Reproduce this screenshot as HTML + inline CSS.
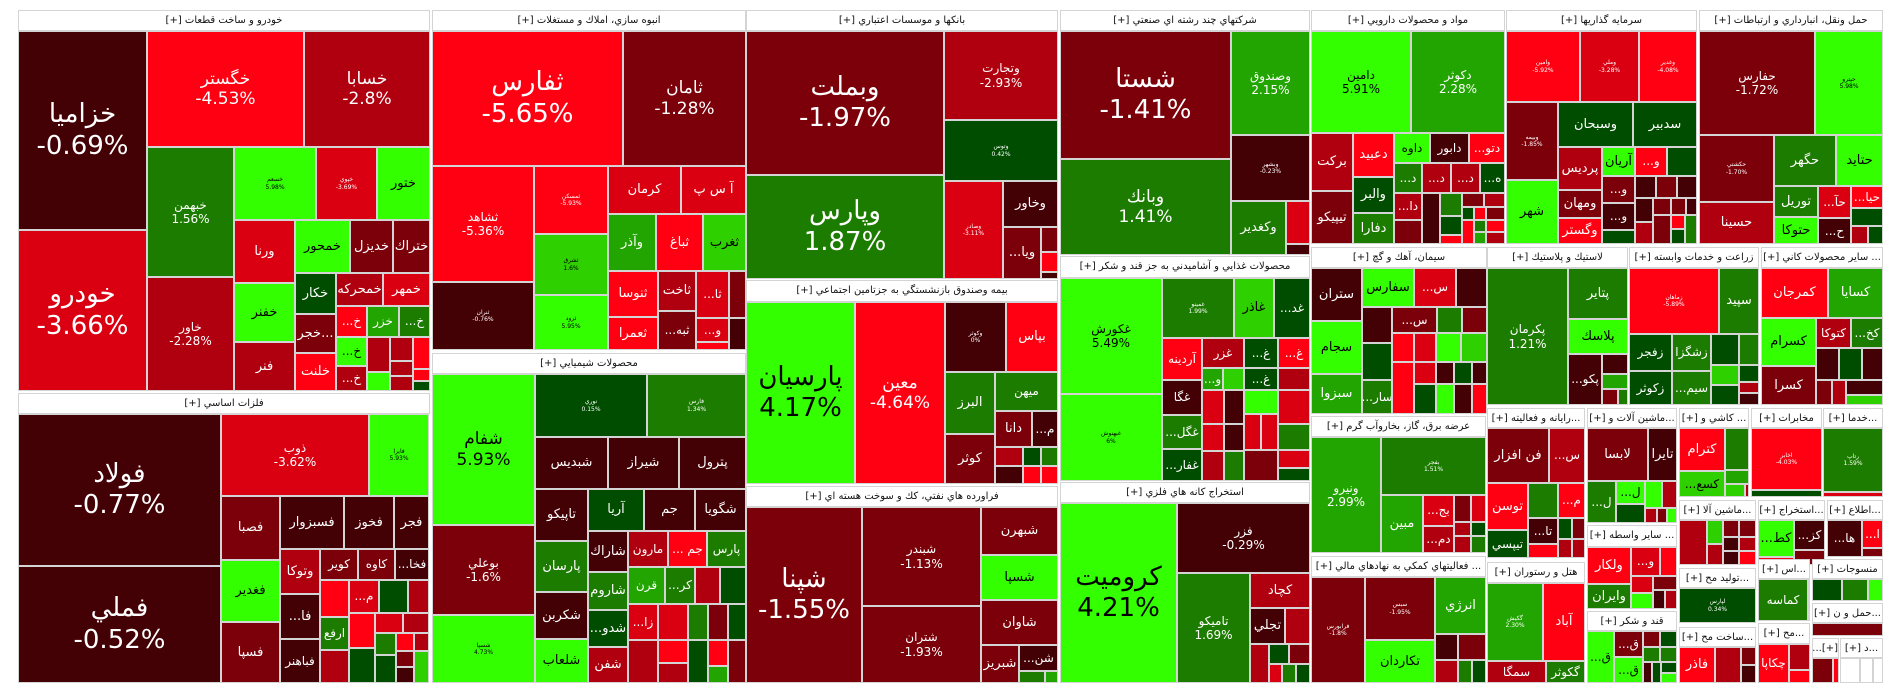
<!DOCTYPE html>
<html><head><meta charset="utf-8"><style>
body{margin:0;width:1904px;height:698px;background:#fff;position:relative;overflow:hidden;font-family:"DejaVu Sans","Liberation Sans",sans-serif}
.t{position:absolute;box-sizing:border-box;border:1px solid #d4d4d4;display:flex;flex-direction:column;align-items:center;justify-content:center;color:#fff;font-size:12px;line-height:1.2;overflow:hidden;text-align:center;white-space:nowrap}
.h{position:absolute;box-sizing:border-box;background:#fff;border:1px solid #d4d4d4;font-size:10px;color:#111;text-align:center;line-height:19px;direction:rtl;overflow:hidden;white-space:nowrap}
.d1{background:#440105}.d2{background:#7b0009}.d3{background:#b0000f}.d4{background:#da0011}.d5{background:#ff0012}
.g1{background:#004d00}.g2{background:#1c7c00}.g3{background:#22a500}.g4{background:#2ed000}.g5{background:#33ff00;color:#000}
.g4{color:#000}
.L{font-size:26px}.M{font-size:17px}.S{font-size:13px}.x{font-size:6px}
</style></head><body>

<!-- sector 1 -->
<div class="h" style="left:18px;top:10px;width:412px;height:21px">خودرو و ساخت قطعات [+]</div>
<div class="t d1 L" style="left:18px;top:31px;width:129px;height:199px">خزاميا<br>-0.69%</div>
<div class="t d4 L" style="left:18px;top:230px;width:129px;height:161px">خودرو<br>-3.66%</div>
<div class="t d5 M" style="left:147px;top:31px;width:157px;height:116px">خگستر<br>-4.53%</div>
<div class="t d3 M" style="left:304px;top:31px;width:126px;height:116px">خسابا<br>-2.8%</div>
<div class="t g2" style="left:147px;top:147px;width:87px;height:130px">خبهمن<br>1.56%</div>
<div class="t d3" style="left:147px;top:277px;width:87px;height:114px">خاور<br>-2.28%</div>
<div class="t g5 x" style="left:234px;top:147px;width:82px;height:73px">خسعم<br>5.98%</div>
<div class="t d4 x" style="left:316px;top:147px;width:61px;height:73px">خپوي<br>-3.69%</div>
<div class="t g5 S" style="left:377px;top:147px;width:53px;height:73px">ختور</div>
<div class="t d4 S" style="left:234px;top:220px;width:61px;height:63px">ورنا</div>
<div class="t g5 S" style="left:234px;top:283px;width:61px;height:59px">خفنر</div>
<div class="t d3 S" style="left:234px;top:342px;width:61px;height:49px">فنر</div>
<div class="t g5 S" style="left:295px;top:220px;width:55px;height:53px">خمحور</div>
<div class="t d2 S" style="left:350px;top:220px;width:43px;height:53px">خديزل</div>
<div class="t d2 S" style="left:393px;top:220px;width:37px;height:53px">ختراك</div>
<div class="t g1 S" style="left:295px;top:273px;width:41px;height:41px">خكار</div>
<div class="t d3 S" style="left:336px;top:273px;width:47px;height:33px">خمحركه</div>
<div class="t d4 S" style="left:383px;top:273px;width:47px;height:33px">خمهر</div>
<div class="t d2 S" style="left:295px;top:314px;width:41px;height:39px">خجر...</div>
<div class="t d5 S" style="left:295px;top:353px;width:41px;height:38px">خلنت</div>
<div class="t d5" style="left:336px;top:306px;width:31px;height:31px">...خ</div>
<div class="t g3" style="left:367px;top:306px;width:32px;height:31px">خزر</div>
<div class="t g2" style="left:399px;top:306px;width:31px;height:31px">...خ</div>
<div class="t g5" style="left:336px;top:337px;width:31px;height:29px">...خ</div>
<div class="t d3" style="left:336px;top:366px;width:31px;height:25px">...خ</div>
<div class="t d3" style="left:367px;top:337px;width:23px;height:35px"></div>
<div class="t d3" style="left:390px;top:337px;width:23px;height:24px"></div>
<div class="t d5" style="left:413px;top:337px;width:17px;height:32px"></div>
<div class="t g5" style="left:367px;top:372px;width:23px;height:19px"></div>
<div class="t d3" style="left:390px;top:361px;width:23px;height:15px"></div>
<div class="t d3" style="left:390px;top:376px;width:23px;height:15px"></div>
<div class="t d5" style="left:413px;top:369px;width:17px;height:12px"></div>
<div class="t g1" style="left:413px;top:381px;width:17px;height:10px"></div>

<!-- metals -->
<div class="h" style="left:18px;top:393px;width:412px;height:21px">فلزات اساسي [+]</div>
<div class="t d1 L" style="left:18px;top:414px;width:203px;height:152px">فولاد<br>-0.77%</div>
<div class="t d1 L" style="left:18px;top:566px;width:203px;height:117px">فملي<br>-0.52%</div>
<div class="t d4" style="left:221px;top:414px;width:148px;height:82px">ذوب<br>-3.62%</div>
<div class="t g5 x" style="left:369px;top:414px;width:60px;height:82px">فايرا<br>5.93%</div>
<div class="t d2 S" style="left:221px;top:496px;width:59px;height:64px">فصبا</div>
<div class="t g5 S" style="left:221px;top:560px;width:59px;height:62px">فغدير</div>
<div class="t d2 S" style="left:221px;top:622px;width:59px;height:61px">فسپا</div>
<div class="t d1 S" style="left:280px;top:496px;width:64px;height:53px">فسبزوار</div>
<div class="t d1 S" style="left:344px;top:496px;width:50px;height:53px">فخوز</div>
<div class="t d1 S" style="left:394px;top:496px;width:35px;height:53px">فجر</div>
<div class="t d3 S" style="left:280px;top:549px;width:40px;height:45px">وتوكا</div>
<div class="t d1 S" style="left:280px;top:594px;width:40px;height:45px">...فا</div>
<div class="t d1" style="left:280px;top:639px;width:40px;height:44px">فباهنر</div>
<div class="t d2" style="left:320px;top:549px;width:38px;height:31px">كوير</div>
<div class="t d2" style="left:358px;top:549px;width:37px;height:31px">كاوه</div>
<div class="t d1" style="left:395px;top:549px;width:34px;height:31px">...فخا</div>
<div class="t d5" style="left:320px;top:580px;width:29px;height:37px"></div>
<div class="t d4" style="left:349px;top:580px;width:30px;height:33px">...م</div>
<div class="t g1" style="left:379px;top:580px;width:29px;height:33px"></div>
<div class="t d3" style="left:408px;top:580px;width:21px;height:33px"></div>
<div class="t g2" style="left:320px;top:617px;width:29px;height:33px">ارفع</div>
<div class="t d3" style="left:320px;top:650px;width:29px;height:33px"></div>
<div class="t d5" style="left:349px;top:613px;width:26px;height:35px"></div>
<div class="t d4" style="left:375px;top:613px;width:28px;height:20px"></div>
<div class="t d3" style="left:403px;top:613px;width:26px;height:20px"></div>
<div class="t g1" style="left:349px;top:648px;width:26px;height:35px"></div>
<div class="t g2" style="left:375px;top:633px;width:21px;height:22px"></div>
<div class="t d5" style="left:396px;top:633px;width:18px;height:18px"></div>
<div class="t d3" style="left:414px;top:633px;width:15px;height:18px"></div>
<div class="t g1" style="left:375px;top:655px;width:21px;height:28px"></div>
<div class="t d2" style="left:396px;top:651px;width:18px;height:16px"></div>
<div class="t d1" style="left:396px;top:667px;width:18px;height:16px"></div>
<div class="t g4" style="left:414px;top:651px;width:15px;height:32px"></div>

<!-- sector 2 -->
<div class="h" style="left:432px;top:10px;width:314px;height:21px">انبوه سازي، املاك و مستغلات [+]</div>
<div class="t d5 L" style="left:432px;top:31px;width:191px;height:135px">ثفارس<br>-5.65%</div>
<div class="t d2 M" style="left:623px;top:31px;width:123px;height:135px">ثامان<br>-1.28%</div>
<div class="t d5" style="left:432px;top:166px;width:102px;height:116px">ثشاهد<br>-5.36%</div>
<div class="t d1 x" style="left:432px;top:282px;width:102px;height:68px">ثنران<br>-0.76%</div>
<div class="t d5 x" style="left:534px;top:166px;width:74px;height:68px">ثمسكن<br>-5.93%</div>
<div class="t g4 x" style="left:534px;top:234px;width:74px;height:61px">ثشرق<br>1.6%</div>
<div class="t g5 x" style="left:534px;top:295px;width:74px;height:55px">ثرود<br>5.95%</div>
<div class="t d4 S" style="left:608px;top:166px;width:73px;height:48px">كرمان</div>
<div class="t d4 S" style="left:681px;top:166px;width:65px;height:48px">آ س پ</div>
<div class="t g3 S" style="left:608px;top:214px;width:48px;height:57px">وآذر</div>
<div class="t d5 S" style="left:656px;top:214px;width:47px;height:57px">ثباغ</div>
<div class="t g4 S" style="left:703px;top:214px;width:43px;height:57px">ثغرب</div>
<div class="t d5 S" style="left:608px;top:271px;width:50px;height:46px">ثنوسا</div>
<div class="t d5 S" style="left:608px;top:317px;width:50px;height:33px">ثعمرا</div>
<div class="t d3 S" style="left:658px;top:271px;width:38px;height:40px">ثاخت</div>
<div class="t d2" style="left:658px;top:311px;width:38px;height:39px">...ثبه</div>
<div class="t d4" style="left:696px;top:271px;width:33px;height:47px">...ثا</div>
<div class="t d2" style="left:729px;top:271px;width:17px;height:47px"></div>
<div class="t d4" style="left:696px;top:318px;width:33px;height:24px">...و</div>
<div class="t d5" style="left:696px;top:342px;width:33px;height:8px"></div>
<div class="t d1" style="left:729px;top:318px;width:17px;height:32px"></div>

<!-- chem -->
<div class="h" style="left:432px;top:353px;width:314px;height:21px">محصولات شيميايي [+]</div>
<div class="t g5 M" style="left:432px;top:374px;width:103px;height:151px">شفام<br>5.93%</div>
<div class="t d2" style="left:432px;top:525px;width:103px;height:90px">بوعلي<br>-1.6%</div>
<div class="t g5 x" style="left:432px;top:615px;width:103px;height:68px">شسپا<br>4.73%</div>
<div class="t g1 x" style="left:535px;top:374px;width:112px;height:63px">نوري<br>0.15%</div>
<div class="t g2 x" style="left:647px;top:374px;width:99px;height:63px">فارس<br>1.34%</div>
<div class="t d1 S" style="left:535px;top:437px;width:73px;height:52px">شبديس</div>
<div class="t d1 S" style="left:608px;top:437px;width:71px;height:52px">شيراز</div>
<div class="t d1 S" style="left:679px;top:437px;width:67px;height:52px">پترول</div>
<div class="t d1 S" style="left:535px;top:489px;width:53px;height:52px">تاپيكو</div>
<div class="t g1 S" style="left:588px;top:489px;width:56px;height:42px">آريا</div>
<div class="t d1 S" style="left:644px;top:489px;width:51px;height:42px">جم</div>
<div class="t d1 S" style="left:695px;top:489px;width:51px;height:42px">شگويا</div>
<div class="t g2 S" style="left:535px;top:541px;width:53px;height:51px">پارسان</div>
<div class="t d1 S" style="left:535px;top:592px;width:53px;height:47px">شكربن</div>
<div class="t g5 S" style="left:535px;top:639px;width:53px;height:44px">شلعاب</div>
<div class="t d1 S" style="left:588px;top:531px;width:40px;height:41px">شاراك</div>
<div class="t g2 S" style="left:588px;top:572px;width:40px;height:38px">شاروم</div>
<div class="t g1 S" style="left:588px;top:610px;width:40px;height:37px">...شدو</div>
<div class="t d3 S" style="left:588px;top:647px;width:40px;height:36px">شفن</div>
<div class="t d3" style="left:628px;top:531px;width:40px;height:36px">مارون</div>
<div class="t d5" style="left:668px;top:531px;width:39px;height:36px">... جم</div>
<div class="t g2" style="left:707px;top:531px;width:39px;height:36px">پارس</div>
<div class="t g3" style="left:628px;top:567px;width:37px;height:37px">قرن</div>
<div class="t g2" style="left:665px;top:567px;width:30px;height:37px">...كر</div>
<div class="t d3" style="left:695px;top:567px;width:25px;height:37px"></div>
<div class="t g1" style="left:720px;top:567px;width:26px;height:37px"></div>
<div class="t d4" style="left:628px;top:604px;width:30px;height:36px">...زا</div>
<div class="t d4" style="left:658px;top:604px;width:30px;height:36px"></div>
<div class="t g2" style="left:688px;top:604px;width:20px;height:36px"></div>
<div class="t d2" style="left:708px;top:604px;width:20px;height:36px"></div>
<div class="t g1" style="left:728px;top:604px;width:18px;height:36px"></div>
<div class="t d3" style="left:628px;top:640px;width:30px;height:43px"></div>
<div class="t d5" style="left:658px;top:640px;width:30px;height:23px"></div>
<div class="t d3" style="left:658px;top:663px;width:30px;height:20px"></div>
<div class="t g1" style="left:688px;top:640px;width:20px;height:43px"></div>
<div class="t d5" style="left:708px;top:640px;width:20px;height:26px"></div>
<div class="t g3" style="left:708px;top:666px;width:20px;height:17px"></div>
<div class="t d2" style="left:728px;top:640px;width:18px;height:43px"></div>

<!-- banks -->
<div class="h" style="left:746px;top:10px;width:312px;height:21px">بانكها و موسسات اعتباري [+]</div>
<div class="t d2 L" style="left:746px;top:31px;width:198px;height:144px">وبملت<br>-1.97%</div>
<div class="t g2 L" style="left:746px;top:175px;width:198px;height:104px">وپارس<br>1.87%</div>
<div class="t d3" style="left:944px;top:31px;width:114px;height:89px">وتجارت<br>-2.93%</div>
<div class="t g1 x" style="left:944px;top:120px;width:114px;height:61px">وتوس<br>0.42%</div>
<div class="t d4 x" style="left:944px;top:181px;width:59px;height:98px">وصادر<br>-3.11%</div>
<div class="t d1 S" style="left:1003px;top:181px;width:55px;height:46px">وخاور</div>
<div class="t d2 S" style="left:1003px;top:227px;width:38px;height:52px">...ويا</div>
<div class="t d2" style="left:1041px;top:227px;width:17px;height:25px"></div>
<div class="t d5" style="left:1041px;top:252px;width:17px;height:20px"></div>
<div class="t d1" style="left:1041px;top:272px;width:17px;height:7px"></div>

<!-- insurance -->
<div class="h" style="left:746px;top:280px;width:312px;height:22px">بيمه وصندوق بازنشستگي به جزتامين اجتماعي [+]</div>
<div class="t g5 L" style="left:746px;top:302px;width:109px;height:182px">پارسيان<br>4.17%</div>
<div class="t d5 M" style="left:855px;top:302px;width:90px;height:182px">معين<br>-4.64%</div>
<div class="t d1 x" style="left:945px;top:302px;width:61px;height:70px">وكوثر<br>0%</div>
<div class="t d5 S" style="left:1006px;top:302px;width:52px;height:70px">بپاس</div>
<div class="t g2 S" style="left:945px;top:372px;width:50px;height:62px">البرز</div>
<div class="t d2 S" style="left:945px;top:434px;width:50px;height:50px">كوثر</div>
<div class="t g2" style="left:995px;top:372px;width:63px;height:39px">ميهن</div>
<div class="t d2 S" style="left:995px;top:411px;width:37px;height:36px">دانا</div>
<div class="t d1" style="left:1032px;top:411px;width:26px;height:36px">...م</div>
<div class="t d3" style="left:995px;top:447px;width:28px;height:19px"></div>
<div class="t g1" style="left:1023px;top:447px;width:18px;height:19px"></div>
<div class="t g2" style="left:1041px;top:447px;width:17px;height:19px"></div>
<div class="t d1" style="left:995px;top:466px;width:28px;height:18px"></div>
<div class="t d5" style="left:1023px;top:466px;width:18px;height:18px"></div>
<div class="t d5" style="left:1041px;top:466px;width:17px;height:18px"></div>

<!-- oil -->
<div class="h" style="left:746px;top:486px;width:312px;height:21px">فراورده هاي نفتي، كك و سوخت هسته اي [+]</div>
<div class="t d2 L" style="left:746px;top:507px;width:116px;height:176px">شپنا<br>-1.55%</div>
<div class="t d2" style="left:862px;top:507px;width:119px;height:99px">شبندر<br>-1.13%</div>
<div class="t d2" style="left:862px;top:606px;width:119px;height:77px">شتران<br>-1.93%</div>
<div class="t d2 S" style="left:981px;top:507px;width:77px;height:48px">شبهرن</div>
<div class="t g5 S" style="left:981px;top:555px;width:77px;height:45px">شسپا</div>
<div class="t d2 S" style="left:981px;top:600px;width:77px;height:45px">شاوان</div>
<div class="t d2 S" style="left:981px;top:645px;width:38px;height:38px">شبريز</div>
<div class="t d1" style="left:1019px;top:645px;width:39px;height:26px">...شن</div>
<div class="t g2" style="left:1019px;top:671px;width:26px;height:12px"></div>
<div class="t g3" style="left:1045px;top:671px;width:13px;height:12px"></div>

<!-- multi -->
<div class="h" style="left:1060px;top:10px;width:250px;height:21px">شركتهاي چند رشته اي صنعتي [+]</div>
<div class="t d2 L" style="left:1060px;top:31px;width:171px;height:128px">شستا<br>-1.41%</div>
<div class="t g2 M" style="left:1060px;top:159px;width:171px;height:96px">وبانك<br>1.41%</div>
<div class="t g3" style="left:1231px;top:31px;width:79px;height:104px">وصندوق<br>2.15%</div>
<div class="t d1 x" style="left:1231px;top:135px;width:79px;height:66px">وبشهر<br>-0.23%</div>
<div class="t g2 S" style="left:1231px;top:201px;width:55px;height:54px">وكغدير</div>
<div class="t d4" style="left:1286px;top:201px;width:24px;height:43px"></div>
<div class="t d1" style="left:1286px;top:244px;width:24px;height:11px"></div>

<!-- food -->
<div class="h" style="left:1060px;top:256px;width:250px;height:22px">محصولات غذايي و آشاميدني به جز قند و شكر [+]</div>
<div class="t g5" style="left:1060px;top:278px;width:102px;height:116px">غكورش<br>5.49%</div>
<div class="t g5 x" style="left:1060px;top:394px;width:102px;height:87px">غبهنوش<br>6%</div>
<div class="t g2 x" style="left:1162px;top:278px;width:72px;height:60px">غمينو<br>1.99%</div>
<div class="t g4 S" style="left:1234px;top:278px;width:40px;height:60px">غاذر</div>
<div class="t g1" style="left:1274px;top:278px;width:36px;height:60px">...غد</div>
<div class="t d5" style="left:1162px;top:338px;width:40px;height:42px">آردينه</div>
<div class="t d1" style="left:1162px;top:380px;width:40px;height:35px">غگا</div>
<div class="t g2" style="left:1162px;top:415px;width:40px;height:34px">...غگل</div>
<div class="t g1" style="left:1162px;top:449px;width:40px;height:32px">...غفار</div>
<div class="t d3" style="left:1202px;top:338px;width:42px;height:30px">غزر</div>
<div class="t g3" style="left:1202px;top:368px;width:21px;height:22px">...و</div>
<div class="t g4" style="left:1223px;top:368px;width:21px;height:22px"></div>
<div class="t d4" style="left:1202px;top:390px;width:22px;height:34px"></div>
<div class="t d1" style="left:1224px;top:390px;width:20px;height:34px"></div>
<div class="t d4" style="left:1202px;top:424px;width:22px;height:27px"></div>
<div class="t d1" style="left:1224px;top:424px;width:20px;height:27px"></div>
<div class="t d3" style="left:1202px;top:451px;width:22px;height:30px"></div>
<div class="t g2" style="left:1224px;top:451px;width:20px;height:30px"></div>
<div class="t g1" style="left:1244px;top:338px;width:34px;height:30px">...غ</div>
<div class="t g1" style="left:1244px;top:368px;width:34px;height:22px">...غ</div>
<div class="t g5" style="left:1244px;top:390px;width:34px;height:24px"></div>
<div class="t d4" style="left:1244px;top:414px;width:17px;height:36px"></div>
<div class="t d4" style="left:1261px;top:414px;width:17px;height:36px"></div>
<div class="t d2" style="left:1244px;top:450px;width:34px;height:31px"></div>
<div class="t d5" style="left:1278px;top:338px;width:32px;height:30px">...غ</div>
<div class="t d3" style="left:1278px;top:368px;width:32px;height:22px"></div>
<div class="t d4" style="left:1278px;top:390px;width:32px;height:34px"></div>
<div class="t g2" style="left:1278px;top:424px;width:32px;height:26px"></div>
<div class="t d4" style="left:1278px;top:450px;width:32px;height:18px"></div>
<div class="t g1" style="left:1278px;top:468px;width:32px;height:13px"></div>

<!-- metal mining -->
<div class="h" style="left:1060px;top:482px;width:250px;height:21px">استخراج كانه هاي فلزي [+]</div>
<div class="t g5 L" style="left:1060px;top:503px;width:117px;height:180px">كروميت<br>4.21%</div>
<div class="t d1" style="left:1177px;top:503px;width:133px;height:70px">فزر<br>-0.29%</div>
<div class="t g2" style="left:1177px;top:573px;width:73px;height:110px">تاميكو<br>1.69%</div>
<div class="t d3 S" style="left:1250px;top:573px;width:60px;height:35px">كچاد</div>
<div class="t d1 S" style="left:1250px;top:608px;width:35px;height:36px">تجلي</div>
<div class="t d3" style="left:1285px;top:608px;width:25px;height:36px"></div>
<div class="t d3" style="left:1250px;top:644px;width:19px;height:39px"></div>
<div class="t g1" style="left:1269px;top:644px;width:20px;height:20px"></div>
<div class="t d2" style="left:1289px;top:644px;width:21px;height:20px"></div>
<div class="t d4" style="left:1269px;top:664px;width:13px;height:19px"></div>
<div class="t g2" style="left:1282px;top:664px;width:14px;height:19px"></div>
<div class="t g1" style="left:1296px;top:664px;width:14px;height:19px"></div>

<!-- pharma -->
<div class="h" style="left:1311px;top:10px;width:194px;height:21px">مواد و محصولات دارويي [+]</div>
<div class="t g5" style="left:1311px;top:31px;width:100px;height:102px">دامين<br>5.91%</div>
<div class="t g3" style="left:1411px;top:31px;width:94px;height:102px">دكوثر<br>2.28%</div>
<div class="t d3 S" style="left:1311px;top:133px;width:42px;height:58px">بركت</div>
<div class="t d2 S" style="left:1311px;top:191px;width:42px;height:53px">تيپيكو</div>
<div class="t d5 S" style="left:1353px;top:133px;width:41px;height:44px">دعبيد</div>
<div class="t g1 S" style="left:1353px;top:177px;width:41px;height:36px">والبر</div>
<div class="t g2 S" style="left:1353px;top:213px;width:41px;height:31px">دفارا</div>
<div class="t g5" style="left:1394px;top:133px;width:36px;height:30px">داوه</div>
<div class="t d1" style="left:1430px;top:133px;width:39px;height:30px">دابور</div>
<div class="t d5" style="left:1469px;top:133px;width:36px;height:30px">...دتو</div>
<div class="t g2" style="left:1394px;top:163px;width:28px;height:30px">...د</div>
<div class="t d3" style="left:1422px;top:163px;width:29px;height:30px">...د</div>
<div class="t d3" style="left:1451px;top:163px;width:29px;height:30px">...د</div>
<div class="t g1" style="left:1480px;top:163px;width:25px;height:30px">...ه</div>
<div class="t d3" style="left:1394px;top:193px;width:28px;height:27px">...دا</div>
<div class="t d2" style="left:1394px;top:220px;width:28px;height:24px"></div>
<div class="t d1" style="left:1422px;top:193px;width:18px;height:51px"></div>
<div class="t g2" style="left:1440px;top:193px;width:22px;height:23px"></div>
<div class="t g1" style="left:1440px;top:216px;width:22px;height:19px"></div>
<div class="t d5" style="left:1440px;top:235px;width:22px;height:9px"></div>
<div class="t d2" style="left:1462px;top:193px;width:22px;height:14px"></div>
<div class="t d3" style="left:1484px;top:193px;width:21px;height:14px"></div>
<div class="t g1" style="left:1462px;top:207px;width:12px;height:13px"></div>
<div class="t d5" style="left:1474px;top:207px;width:12px;height:13px"></div>
<div class="t d2" style="left:1486px;top:207px;width:19px;height:13px"></div>
<div class="t d5" style="left:1462px;top:220px;width:12px;height:24px"></div>
<div class="t g2" style="left:1474px;top:220px;width:12px;height:12px"></div>
<div class="t d5" style="left:1486px;top:220px;width:19px;height:12px"></div>
<div class="t g3" style="left:1474px;top:232px;width:12px;height:12px"></div>
<div class="t d3" style="left:1486px;top:232px;width:19px;height:12px"></div>

<!-- cement -->
<div class="h" style="left:1311px;top:247px;width:176px;height:21px">سيمان، آهك و گچ [+]</div>
<div class="t d1 S" style="left:1311px;top:268px;width:51px;height:53px">ستران</div>
<div class="t g5 S" style="left:1311px;top:321px;width:51px;height:53px">سجام</div>
<div class="t g3 S" style="left:1311px;top:374px;width:51px;height:40px">سبزوا</div>
<div class="t g5 S" style="left:1362px;top:268px;width:52px;height:39px">سفارس</div>
<div class="t d4" style="left:1414px;top:268px;width:42px;height:39px">...س</div>
<div class="t d1" style="left:1456px;top:268px;width:31px;height:39px"></div>
<div class="t d1" style="left:1362px;top:307px;width:30px;height:36px"></div>
<div class="t d2" style="left:1392px;top:307px;width:45px;height:26px">...س</div>
<div class="t g2" style="left:1437px;top:307px;width:25px;height:26px"></div>
<div class="t d2" style="left:1462px;top:307px;width:25px;height:26px"></div>
<div class="t g1" style="left:1362px;top:343px;width:30px;height:37px"></div>
<div class="t g2" style="left:1362px;top:380px;width:30px;height:34px">...سار</div>
<div class="t d5" style="left:1392px;top:333px;width:22px;height:29px"></div>
<div class="t d4" style="left:1414px;top:333px;width:22px;height:29px"></div>
<div class="t g5" style="left:1436px;top:333px;width:25px;height:29px"></div>
<div class="t g4" style="left:1461px;top:333px;width:26px;height:29px"></div>
<div class="t d5" style="left:1392px;top:362px;width:22px;height:52px"></div>
<div class="t d4" style="left:1414px;top:362px;width:22px;height:22px"></div>
<div class="t g1" style="left:1414px;top:384px;width:22px;height:30px"></div>
<div class="t d1" style="left:1436px;top:362px;width:18px;height:22px"></div>
<div class="t g1" style="left:1454px;top:362px;width:18px;height:22px"></div>
<div class="t d1" style="left:1472px;top:362px;width:15px;height:22px"></div>
<div class="t g5" style="left:1436px;top:384px;width:18px;height:30px"></div>
<div class="t d1" style="left:1454px;top:384px;width:18px;height:30px"></div>
<div class="t d5" style="left:1472px;top:384px;width:15px;height:30px"></div>

<!-- energy -->
<div class="h" style="left:1311px;top:416px;width:175px;height:21px">عرضه برق، گاز، بخاروآب گرم [+]</div>
<div class="t g3" style="left:1311px;top:437px;width:70px;height:116px">ونيرو<br>2.99%</div>
<div class="t g2 x" style="left:1381px;top:437px;width:105px;height:58px">بفجر<br>1.51%</div>
<div class="t g3 S" style="left:1381px;top:495px;width:42px;height:58px">مبين</div>
<div class="t d4" style="left:1423px;top:495px;width:31px;height:31px">...بج</div>
<div class="t d3" style="left:1423px;top:526px;width:31px;height:27px">...دم</div>
<div class="t d2" style="left:1454px;top:495px;width:17px;height:27px"></div>
<div class="t d4" style="left:1471px;top:495px;width:15px;height:27px"></div>
<div class="t d3" style="left:1454px;top:522px;width:17px;height:14px"></div>
<div class="t g1" style="left:1471px;top:522px;width:15px;height:14px"></div>
<div class="t d3" style="left:1454px;top:536px;width:17px;height:17px"></div>
<div class="t g2" style="left:1471px;top:536px;width:15px;height:17px"></div>

<!-- fin aux -->
<div class="h" style="left:1311px;top:556px;width:175px;height:21px">... فعاليتهاي كمكي به نهادهاي مالي [+]</div>
<div class="t d2 x" style="left:1311px;top:577px;width:54px;height:106px">فرابورس<br>-1.8%</div>
<div class="t d2 x" style="left:1365px;top:577px;width:70px;height:63px">سبس<br>-1.95%</div>
<div class="t g3 S" style="left:1435px;top:577px;width:51px;height:57px">انرژي</div>
<div class="t g5 S" style="left:1365px;top:640px;width:70px;height:43px">تكاردان</div>
<div class="t d1" style="left:1435px;top:634px;width:23px;height:26px"></div>
<div class="t d2" style="left:1458px;top:634px;width:28px;height:26px"></div>
<div class="t d3" style="left:1435px;top:660px;width:23px;height:23px"></div>
<div class="t g2" style="left:1458px;top:660px;width:14px;height:23px"></div>
<div class="t g1" style="left:1472px;top:660px;width:14px;height:23px"></div>

<!-- investment -->
<div class="h" style="left:1506px;top:10px;width:191px;height:21px">سرمايه گذاريها [+]</div>
<div class="t d5 x" style="left:1506px;top:31px;width:74px;height:71px">وامين<br>-5.92%</div>
<div class="t d4 x" style="left:1580px;top:31px;width:59px;height:71px">وملي<br>-3.28%</div>
<div class="t d5 x" style="left:1639px;top:31px;width:58px;height:71px">وغدير<br>-4.08%</div>
<div class="t d2 x" style="left:1506px;top:102px;width:52px;height:78px">وبيمه<br>-1.85%</div>
<div class="t g5 S" style="left:1506px;top:180px;width:52px;height:64px">شهر</div>
<div class="t g1 S" style="left:1558px;top:102px;width:75px;height:45px">وسبحان</div>
<div class="t g1 S" style="left:1633px;top:102px;width:64px;height:45px">سدبير</div>
<div class="t d3 S" style="left:1558px;top:147px;width:44px;height:43px">پرديس</div>
<div class="t d2 S" style="left:1558px;top:190px;width:44px;height:28px">ومهان</div>
<div class="t d5 S" style="left:1558px;top:218px;width:44px;height:26px">وگستر</div>
<div class="t g5 S" style="left:1602px;top:147px;width:33px;height:29px">آريان</div>
<div class="t d5" style="left:1635px;top:147px;width:32px;height:29px">...و</div>
<div class="t g1" style="left:1667px;top:147px;width:30px;height:29px"></div>
<div class="t d2" style="left:1602px;top:176px;width:33px;height:27px">...و</div>
<div class="t d1" style="left:1602px;top:203px;width:33px;height:27px">...و</div>
<div class="t g1" style="left:1602px;top:230px;width:33px;height:14px"></div>
<div class="t d1" style="left:1635px;top:176px;width:21px;height:22px"></div>
<div class="t d2" style="left:1656px;top:176px;width:21px;height:22px"></div>
<div class="t d1" style="left:1677px;top:176px;width:20px;height:22px"></div>
<div class="t d1" style="left:1635px;top:198px;width:18px;height:24px"></div>
<div class="t d2" style="left:1653px;top:198px;width:18px;height:17px"></div>
<div class="t d2" style="left:1671px;top:198px;width:15px;height:17px"></div>
<div class="t d1" style="left:1686px;top:198px;width:11px;height:17px"></div>
<div class="t d3" style="left:1635px;top:222px;width:18px;height:22px"></div>
<div class="t d2" style="left:1653px;top:215px;width:18px;height:29px"></div>
<div class="t d5" style="left:1671px;top:215px;width:14px;height:14px"></div>
<div class="t g1" style="left:1671px;top:229px;width:14px;height:15px"></div>
<div class="t g2" style="left:1685px;top:215px;width:12px;height:29px"></div>

<!-- transport -->
<div class="h" style="left:1699px;top:10px;width:184px;height:21px">حمل ونقل، انبارداري و ارتباطات [+]</div>
<div class="t d2" style="left:1699px;top:31px;width:116px;height:104px">حفارس<br>-1.72%</div>
<div class="t g5 x" style="left:1815px;top:31px;width:68px;height:104px">حپترو<br>5.98%</div>
<div class="t d2 x" style="left:1699px;top:135px;width:75px;height:67px">حكشتي<br>-1.70%</div>
<div class="t d3 S" style="left:1699px;top:202px;width:75px;height:42px">حسينا</div>
<div class="t g2 S" style="left:1774px;top:135px;width:62px;height:51px">حگهر</div>
<div class="t g5 S" style="left:1836px;top:135px;width:47px;height:51px">حتايد</div>
<div class="t g2 S" style="left:1774px;top:186px;width:44px;height:31px">توريل</div>
<div class="t g5 S" style="left:1774px;top:217px;width:44px;height:27px">حتوكا</div>
<div class="t d4" style="left:1818px;top:186px;width:33px;height:32px">...حآ</div>
<div class="t d5" style="left:1851px;top:186px;width:32px;height:22px">...حيا</div>
<div class="t g1" style="left:1851px;top:208px;width:32px;height:18px"></div>
<div class="t d1" style="left:1818px;top:218px;width:33px;height:26px">...ح</div>
<div class="t d3" style="left:1851px;top:226px;width:17px;height:18px"></div>
<div class="t g1" style="left:1868px;top:226px;width:15px;height:18px"></div>

<!-- rubber -->
<div class="h" style="left:1487px;top:247px;width:141px;height:21px">لاستيك و پلاستيك [+]</div>
<div class="t g2" style="left:1487px;top:268px;width:81px;height:137px">پكرمان<br>1.21%</div>
<div class="t g2 S" style="left:1568px;top:268px;width:60px;height:51px">پتاير</div>
<div class="t g5 S" style="left:1568px;top:319px;width:60px;height:35px">پلاسك</div>
<div class="t d1" style="left:1568px;top:354px;width:34px;height:51px">...پكو</div>
<div class="t d1" style="left:1602px;top:354px;width:26px;height:20px"></div>
<div class="t g3" style="left:1602px;top:374px;width:26px;height:15px"></div>
<div class="t d2" style="left:1602px;top:389px;width:16px;height:16px"></div>
<div class="t g2" style="left:1618px;top:389px;width:10px;height:16px"></div>

<!-- agri -->
<div class="h" style="left:1629px;top:247px;width:130px;height:21px">زراعت و خدمات وابسته [+]</div>
<div class="t d5 x" style="left:1629px;top:268px;width:90px;height:66px">زماهان<br>-5.89%</div>
<div class="t g2 S" style="left:1719px;top:268px;width:40px;height:66px">سپيد</div>
<div class="t g1" style="left:1629px;top:334px;width:43px;height:37px">زفجر</div>
<div class="t g1" style="left:1629px;top:371px;width:43px;height:34px">زكوثر</div>
<div class="t g2" style="left:1672px;top:334px;width:39px;height:37px">زشگزا</div>
<div class="t g2" style="left:1672px;top:371px;width:39px;height:34px">...سيم</div>
<div class="t g1" style="left:1711px;top:334px;width:28px;height:31px"></div>
<div class="t g2" style="left:1739px;top:334px;width:20px;height:31px"></div>
<div class="t g4" style="left:1711px;top:365px;width:28px;height:20px"></div>
<div class="t g1" style="left:1739px;top:365px;width:20px;height:17px"></div>
<div class="t g1" style="left:1711px;top:385px;width:28px;height:20px"></div>
<div class="t d3" style="left:1739px;top:382px;width:20px;height:11px"></div>
<div class="t d1" style="left:1739px;top:393px;width:20px;height:12px"></div>

<!-- other mining -->
<div class="h" style="left:1761px;top:247px;width:122px;height:21px">... ساير محصولات كاني [+]</div>
<div class="t d5 S" style="left:1761px;top:268px;width:67px;height:50px">كمرجان</div>
<div class="t g3 S" style="left:1828px;top:268px;width:55px;height:50px">كسايا</div>
<div class="t g5 S" style="left:1761px;top:318px;width:55px;height:48px">كسرام</div>
<div class="t d3" style="left:1816px;top:318px;width:35px;height:30px">كتوكا</div>
<div class="t g2" style="left:1851px;top:318px;width:32px;height:30px">...كخ</div>
<div class="t d2 S" style="left:1761px;top:366px;width:55px;height:39px">كسرا</div>
<div class="t d1" style="left:1816px;top:348px;width:23px;height:32px"></div>
<div class="t g1" style="left:1839px;top:348px;width:23px;height:32px"></div>
<div class="t d1" style="left:1862px;top:348px;width:21px;height:32px"></div>
<div class="t d2" style="left:1816px;top:380px;width:16px;height:25px"></div>
<div class="t d3" style="left:1832px;top:380px;width:14px;height:25px"></div>
<div class="t d1" style="left:1846px;top:380px;width:37px;height:15px"></div>
<div class="t g4" style="left:1846px;top:395px;width:37px;height:10px"></div>

<!-- IT -->
<div class="h" style="left:1487px;top:408px;width:98px;height:20px">...رايانه و فعاليته [+]</div>
<div class="t d2 S" style="left:1487px;top:428px;width:62px;height:55px">فن افزار</div>
<div class="t d3" style="left:1549px;top:428px;width:36px;height:55px">...س</div>
<div class="t d5 S" style="left:1487px;top:483px;width:41px;height:47px">توسن</div>
<div class="t g1" style="left:1487px;top:530px;width:41px;height:28px">تيپسي</div>
<div class="t g2" style="left:1528px;top:483px;width:30px;height:35px"></div>
<div class="t d5" style="left:1558px;top:483px;width:27px;height:35px">...م</div>
<div class="t d1" style="left:1528px;top:518px;width:30px;height:26px">...تا</div>
<div class="t d5" style="left:1528px;top:544px;width:30px;height:14px"></div>
<div class="t g1" style="left:1558px;top:518px;width:14px;height:21px"></div>
<div class="t d2" style="left:1572px;top:518px;width:13px;height:21px"></div>
<div class="t d3" style="left:1558px;top:539px;width:14px;height:19px"></div>
<div class="t d3" style="left:1572px;top:539px;width:13px;height:19px"></div>

<!-- hotel -->
<div class="h" style="left:1487px;top:562px;width:98px;height:21px">هتل و رستوران [+]</div>
<div class="t g3 x" style="left:1487px;top:583px;width:56px;height:78px">گكيش<br>2.30%</div>
<div class="t d5 S" style="left:1543px;top:583px;width:42px;height:78px">آباد</div>
<div class="t d3" style="left:1487px;top:661px;width:59px;height:22px">سمگا</div>
<div class="t g2" style="left:1546px;top:661px;width:39px;height:22px">گكوثر</div>

<!-- machinery -->
<div class="h" style="left:1587px;top:408px;width:90px;height:20px">...ماشين آلات و [+]</div>
<div class="t d2 S" style="left:1587px;top:428px;width:61px;height:53px">لابسا</div>
<div class="t d1 S" style="left:1648px;top:428px;width:29px;height:53px">تايرا</div>
<div class="t g2" style="left:1587px;top:481px;width:29px;height:42px">...ل</div>
<div class="t g5" style="left:1616px;top:481px;width:29px;height:23px">...ل</div>
<div class="t g1" style="left:1616px;top:504px;width:29px;height:19px"></div>
<div class="t g5" style="left:1645px;top:481px;width:17px;height:27px"></div>
<div class="t d3" style="left:1662px;top:481px;width:15px;height:27px"></div>
<div class="t d3" style="left:1645px;top:508px;width:12px;height:15px"></div>
<div class="t d2" style="left:1657px;top:508px;width:10px;height:15px"></div>
<div class="t g5" style="left:1667px;top:508px;width:10px;height:15px"></div>

<div class="h" style="left:1587px;top:525px;width:90px;height:22px">... ساير واسطه [+]</div>
<div class="t d5 S" style="left:1587px;top:547px;width:44px;height:37px">ولكار</div>
<div class="t g2 S" style="left:1587px;top:584px;width:44px;height:25px">وايران</div>
<div class="t d4" style="left:1631px;top:547px;width:29px;height:29px">...و</div>
<div class="t d5" style="left:1660px;top:547px;width:17px;height:29px"></div>
<div class="t d4" style="left:1631px;top:576px;width:22px;height:17px"></div>
<div class="t d2" style="left:1653px;top:576px;width:24px;height:14px"></div>
<div class="t g5" style="left:1631px;top:593px;width:22px;height:16px"></div>
<div class="t d1" style="left:1653px;top:590px;width:12px;height:19px"></div>
<div class="t d3" style="left:1665px;top:590px;width:12px;height:19px"></div>

<div class="h" style="left:1587px;top:611px;width:90px;height:20px">قند و شكر [+]</div>
<div class="t g5" style="left:1587px;top:631px;width:27px;height:52px">...ق</div>
<div class="t d2" style="left:1614px;top:631px;width:29px;height:26px">...ق</div>
<div class="t g5" style="left:1614px;top:657px;width:29px;height:26px">...ق</div>
<div class="t d2" style="left:1643px;top:631px;width:17px;height:16px"></div>
<div class="t g1" style="left:1660px;top:631px;width:17px;height:16px"></div>
<div class="t g2" style="left:1643px;top:647px;width:17px;height:15px"></div>
<div class="t g2" style="left:1660px;top:647px;width:17px;height:15px"></div>
<div class="t d1" style="left:1643px;top:662px;width:9px;height:21px"></div>
<div class="t g1" style="left:1652px;top:662px;width:9px;height:21px"></div>
<div class="t g1" style="left:1661px;top:662px;width:16px;height:11px"></div>
<div class="t g5" style="left:1661px;top:673px;width:16px;height:10px"></div>

<!-- tiles -->
<div class="h" style="left:1679px;top:408px;width:70px;height:20px">... كاشي و [+]</div>
<div class="t d5 S" style="left:1679px;top:428px;width:46px;height:43px">كترام</div>
<div class="t g2" style="left:1725px;top:428px;width:24px;height:42px"></div>
<div class="t g4" style="left:1679px;top:471px;width:46px;height:26px">...كسع</div>
<div class="t g3" style="left:1725px;top:470px;width:24px;height:14px"></div>
<div class="t g4" style="left:1725px;top:484px;width:20px;height:13px"></div>
<div class="t d3" style="left:1745px;top:484px;width:4px;height:13px"></div>

<div class="h" style="left:1751px;top:408px;width:71px;height:20px">مخابرات [+]</div>
<div class="t d5 x" style="left:1751px;top:428px;width:71px;height:62px">اخابر<br>-4.03%</div>
<div class="t g1" style="left:1751px;top:490px;width:71px;height:7px"></div>

<div class="h" style="left:1823px;top:408px;width:60px;height:20px">...خدما [+]</div>
<div class="t g2 x" style="left:1823px;top:428px;width:60px;height:64px">رتاپ<br>1.59%</div>
<div class="t d4" style="left:1823px;top:492px;width:60px;height:5px"></div>

<div class="h" style="left:1679px;top:500px;width:77px;height:20px">...ماشين آلا [+]</div>
<div class="t d3" style="left:1679px;top:520px;width:28px;height:45px"></div>
<div class="t g4" style="left:1707px;top:520px;width:16px;height:24px"></div>
<div class="t d3" style="left:1707px;top:544px;width:16px;height:21px"></div>
<div class="t d2" style="left:1723px;top:520px;width:16px;height:17px"></div>
<div class="t d2" style="left:1739px;top:520px;width:17px;height:17px"></div>
<div class="t d1" style="left:1723px;top:537px;width:16px;height:14px"></div>
<div class="t d3" style="left:1739px;top:537px;width:17px;height:14px"></div>
<div class="t d1" style="left:1723px;top:551px;width:16px;height:14px"></div>
<div class="t d5" style="left:1739px;top:551px;width:17px;height:14px"></div>

<div class="h" style="left:1758px;top:500px;width:67px;height:20px">...استخراج [+]</div>
<div class="t g5 S" style="left:1758px;top:520px;width:36px;height:37px">...كط</div>
<div class="t d5" style="left:1758px;top:557px;width:36px;height:8px"></div>
<div class="t d1" style="left:1794px;top:520px;width:31px;height:30px">...كز</div>
<div class="t d2" style="left:1794px;top:550px;width:31px;height:15px"></div>

<div class="h" style="left:1827px;top:500px;width:56px;height:20px">...اطلاع [+]</div>
<div class="t d1" style="left:1827px;top:520px;width:35px;height:37px">...ها</div>
<div class="t d5" style="left:1862px;top:520px;width:21px;height:28px">...ا</div>
<div class="t d2" style="left:1862px;top:548px;width:21px;height:9px"></div>

<div class="h" style="left:1679px;top:568px;width:77px;height:20px">...توليد مح [+]</div>
<div class="t g1 x" style="left:1679px;top:588px;width:77px;height:35px">لپارس<br>0.34%</div>

<div class="h" style="left:1758px;top:559px;width:52px;height:20px">...اس [+]</div>
<div class="t g2" style="left:1758px;top:579px;width:50px;height:42px">كماسه</div>
<div class="t d3" style="left:1808px;top:579px;width:2px;height:42px"></div>

<div class="h" style="left:1812px;top:559px;width:71px;height:20px">منسوجات [+]</div>
<div class="t g1" style="left:1812px;top:579px;width:30px;height:22px"></div>
<div class="t g2" style="left:1842px;top:579px;width:26px;height:22px"></div>
<div class="t g5" style="left:1868px;top:579px;width:15px;height:22px"></div>

<div class="h" style="left:1812px;top:603px;width:71px;height:20px">...حمل و ن [+]</div>
<div class="t d2" style="left:1812px;top:623px;width:71px;height:13px"></div>

<div class="h" style="left:1679px;top:627px;width:77px;height:20px">...ساخت مح [+]</div>
<div class="t d5 S" style="left:1679px;top:647px;width:36px;height:36px">فاذر</div>
<div class="t d3" style="left:1715px;top:647px;width:26px;height:36px"></div>
<div class="t d2" style="left:1741px;top:647px;width:15px;height:18px"></div>
<div class="t d1" style="left:1741px;top:665px;width:15px;height:18px"></div>

<div class="h" style="left:1758px;top:623px;width:52px;height:21px">...مح [+]</div>
<div class="t d5" style="left:1758px;top:644px;width:31px;height:39px">چكاپا</div>
<div class="t d3" style="left:1789px;top:644px;width:21px;height:26px"></div>
<div class="t d5" style="left:1789px;top:670px;width:21px;height:13px"></div>

<div class="h" style="left:1812px;top:638px;width:27px;height:20px">[+]...</div>
<div class="t d2" style="left:1812px;top:658px;width:21px;height:25px"></div>
<div class="t d5" style="left:1833px;top:658px;width:6px;height:25px"></div>
<div class="h" style="left:1840px;top:638px;width:43px;height:20px">...د [+]</div>
<div class="t" style="left:1840px;top:658px;width:20px;height:25px;background:#fff"></div>
<div class="t" style="left:1860px;top:658px;width:13px;height:25px;background:#fff"></div>
<div class="t" style="left:1873px;top:658px;width:10px;height:25px;background:#fff"></div>

</body></html>
